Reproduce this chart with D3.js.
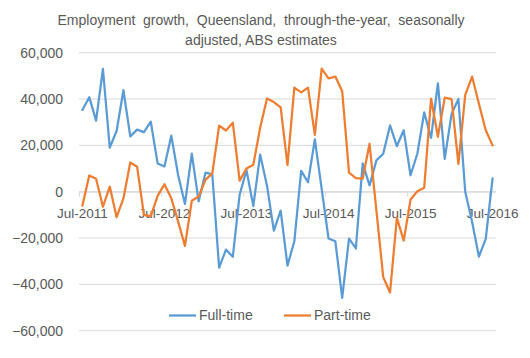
<!DOCTYPE html>
<html><head><meta charset="utf-8">
<script src="https://cdn.jsdelivr.net/npm/d3@7"></script>
<style>
html,body{margin:0;padding:0;background:#fff;}
svg text{font-family:"Liberation Sans",Arial,sans-serif;fill:#595959;}
</style></head>
<body>
<svg id="chart" width="530" height="358"></svg>
<script>
// ---- data ----
const titleLines = ["Employment  growth,  Queensland,  through-the-year,  seasonally", "adjusted, ABS estimates"];
const months = d3.timeMonth.range(new Date(2011, 6, 1), new Date(2016, 7, 1)).map(d3.timeFormat("%b-%Y"));
const tickLabels = ["Jul-2011", "Jul-2012", "Jul-2013", "Jul-2014", "Jul-2015", "Jul-2016"];
const yTicks = [-60000, -40000, -20000, 0, 20000, 40000, 60000];
const fullTime = [35300, 40800, 30700, 53000, 19000, 26200, 43800, 23900, 26800, 25700, 30200, 12200,
  10900, 24200, 7200, -5300, 16400, -4200, 8200, 7500, -32800, -25000, -28100, -1300,
  9300, -6200, 16000, 2600, -16800, -8200, -31900, -21400, 9000, 4100, 22600, 1200,
  -20200, -21400, -45800, -20300, -24500, 12200, 2700, 13500, 16400, 28600, 19700, 26500,
  7100, 16500, 34200, 23200, 46800, 14200, 33500, 40000, 0, -13000, -28000, -20400, 5800];
const partTime = [-6000, 7000, 5600, -6500, 2200, -11000, -2900, 12600, 10800, -10000, -10500, -1800,
  3200, -2800, -12900, -23400, -3900, -2100, 5100, 7900, 28500, 26400, 29800, 4800,
  10000, 11600, 27600, 40200, 38700, 36400, 11500, 44900, 42900, 44900, 24500, 53100,
  48900, 49700, 43400, 8200, 5900, 5600, 20700, -8000, -36800, -43500, -11300, -21100,
  -3400, 200, 1700, 40200, 23700, 40600, 40000, 12000, 41800, 49700, 38000, 26500, 20000];
const seriesNames = ["Full-time", "Part-time"];
const seriesColors = ["#5B9BD5", "#ED7D31"];

// ---- layout ----
const svg = d3.select("#chart");
const x = d3.scaleBand().domain(months).range([79, 496]);
const y = d3.scaleLinear().domain([-60000, 60000]).range([330.7, 52.7]);
const cx = m => x(m) + x.bandwidth() / 2;

// title
svg.append("g").selectAll("text").data(titleLines).join("text")
  .attr("x", 261).attr("y", (d, i) => 25 + i * 20)
  .attr("text-anchor", "middle").style("font-size", "14px").style("white-space", "pre")
  .text(d => d);

// gridlines
svg.append("g").selectAll("line").data(yTicks).join("line")
  .attr("x1", 79).attr("x2", 496)
  .attr("y1", d => y(d)).attr("y2", d => y(d))
  .attr("stroke", "#D9D9D9").attr("stroke-width", 1);

// y labels
svg.append("g").selectAll("text").data(yTicks).join("text")
  .attr("x", 63).attr("y", d => y(d)).attr("dy", "0.35em")
  .attr("text-anchor", "end").style("font-size", "14px")
  .text(d => d3.format(",")(d));

// category axis at zero
const xAxis = d3.axisBottom(x).tickValues(tickLabels).tickSize(0).tickPadding(0).tickFormat(d => d);
const xg = svg.append("g").attr("transform", `translate(0,${y(0)})`).call(xAxis);
xg.select(".domain").attr("stroke", "#D9D9D9");
xg.selectAll("text").attr("dy", null).attr("y", 26).style("font-size", "13.5px").style("font-family", '"Liberation Sans",Arial,sans-serif').attr("fill", "#595959");
// tick marks at category boundaries
xg.selectAll("line.bound").data(tickLabels).join("line").attr("class", "bound")
  .attr("x1", d => x(d) + 0.5).attr("x2", d => x(d) + 0.5)
  .attr("y1", 0).attr("y2", 5).attr("stroke", "#D9D9D9");

// lines
const line = d3.line().x((d, i) => cx(months[i])).y(d => y(d));
[fullTime, partTime].forEach((s, k) => {
  svg.append("path").datum(s).attr("d", line)
    .attr("fill", "none").attr("stroke", seriesColors[k])
    .attr("stroke-width", 2.25).attr("stroke-linejoin", "round").attr("stroke-linecap", "round");
});

// legend
const legendX = [169, 284];
const lg = svg.append("g").selectAll("g").data(seriesNames).join("g")
  .attr("transform", (d, i) => `translate(${legendX[i]},315.5)`);
lg.append("line").attr("x1", 0).attr("x2", 27).attr("y1", 0).attr("y2", 0)
  .attr("stroke", (d, i) => seriesColors[i]).attr("stroke-width", 2.25);
lg.append("text").attr("x", 30).attr("dy", "0.35em").style("font-size", "14px").text(d => d);
</script>
</body></html>
